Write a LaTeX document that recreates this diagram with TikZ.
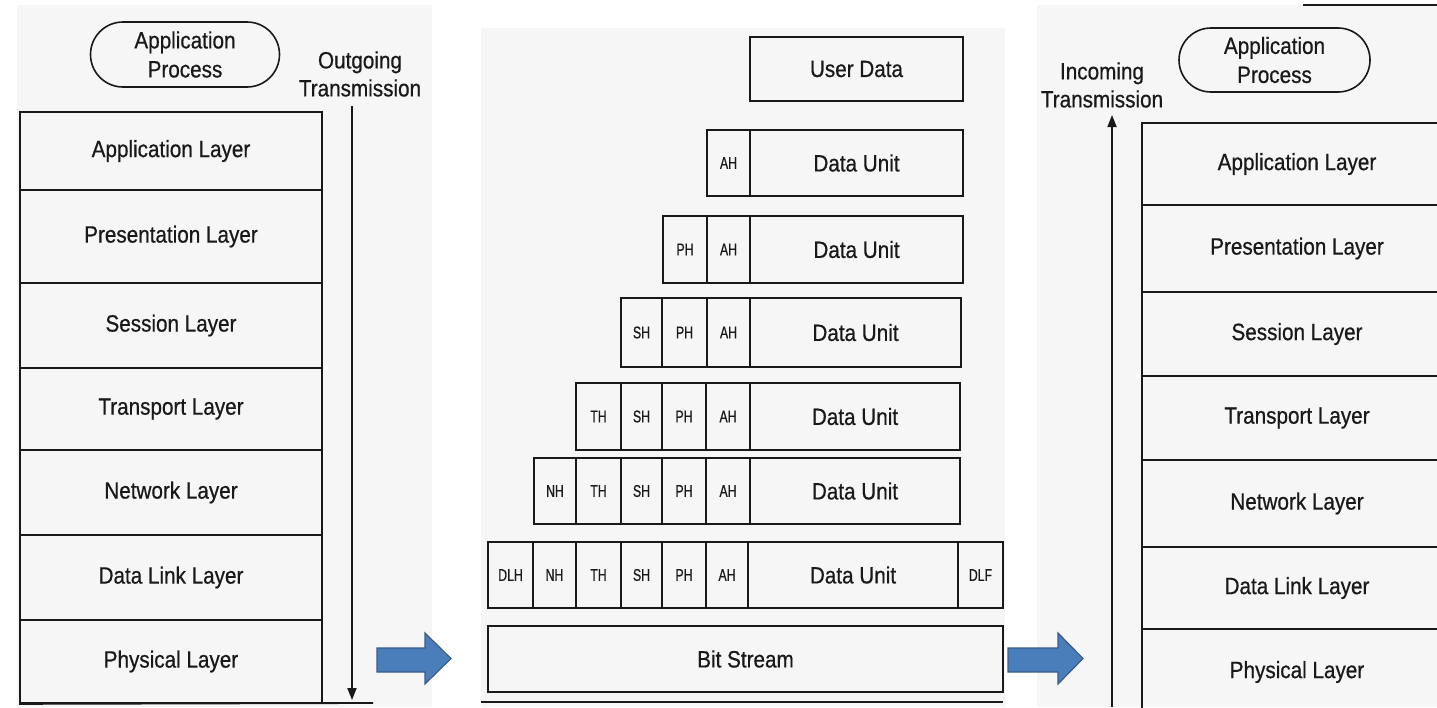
\documentclass[tikz,border=0pt]{standalone}
\usepackage{fontspec}
\setmainfont{Liberation Sans}[FakeStretch=0.88,FakeBold=0.6]
\newfontfamily\hdrfont{Liberation Sans}[FakeStretch=0.72,FakeBold=0.6]
\usetikzlibrary{arrows.meta,shapes.misc}
\definecolor{ink}{RGB}{25,25,25}
\definecolor{paper}{RGB}{246,246,246}
\definecolor{arrfill}{RGB}{74,126,187}
\definecolor{arrline}{RGB}{56,93,138}
\newcommand\cb[7][]{\node[cell,#1,minimum width={(#5-#3)*1pt},minimum height={(#6-#4)*1pt}] (#2) at ({(#3+#5)/2},{(#4+#6)/2}) {#7};}
\begin{document}
\begin{tikzpicture}[x=1pt,y=-1pt,
  cell/.style={draw=ink,line width=1.8pt,inner sep=0pt,text=ink,font=\fontsize{23.5}{28}\selectfont},
  hdr/.style={font=\hdrfont\fontsize{17}{18}\selectfont},
  proc/.style={rounded rectangle,draw=ink,line width=1.6pt,inner sep=0pt,align=center,text=ink,font=\fontsize{23.5}{29}\selectfont},
  lbl/.style={align=center,inner sep=0pt,text=ink,font=\fontsize{23.5}{28}\selectfont},
  flow/.style={draw=ink,line width=1.8pt,-{Triangle[length=12pt,width=9pt]}},
  rule/.style={draw=ink,line width=1.8pt},
  bigarrow/.style={fill=arrfill,draw=arrline,line width=1.2pt,line join=miter}]
\useasboundingbox (0,0) rectangle (1437,707);
% scanned page backgrounds
\fill[paper] (17,5) rectangle (432,707);
\fill[paper] (481,28) rectangle (1005,707);
\fill[paper] (1037,5) rectangle (1437,707);

% ---------- left: sender stack ----------
\node[proc,minimum width=189pt,minimum height=65pt] (lproc) at (185,54.5) {Application\\Process};
\node[lbl] (outl) at (360,74) {Outgoing\\Transmission};
\cb{lapp}{20}{112}{322}{190}{Application Layer}
\cb{lpre}{20}{190}{322}{283}{Presentation Layer}
\cb{lses}{20}{283}{322}{368}{Session Layer}
\cb{ltra}{20}{368}{322}{450}{Transport Layer}
\cb{lnet}{20}{450}{322}{535}{Network Layer}
\cb{ldl}{20}{535}{322}{620}{Data Link Layer}
\cb{lphy}{20}{620}{322}{703}{Physical Layer}
\coordinate (lbase) at (373,703);
\draw[rule] (lphy.south west) -- (lbase);
\coordinate (outtop) at (352,106);
\coordinate (outbot) at (352,700);
\draw[flow] (outtop) -- (outbot);

% ---------- middle: encapsulation ----------
\cb{ud}{750}{37}{963}{101}{User Data}
\cb[hdr]{aah}{707}{130}{750}{196}{AH}
\cb{adu}{750}{130}{963}{196}{Data Unit}
\cb[hdr]{pph}{663}{216}{707}{283}{PH}
\cb[hdr]{pah}{707}{216}{750}{283}{AH}
\cb{pdu}{750}{216}{963}{283}{Data Unit}
\cb[hdr]{ssh}{621}{298}{662}{367}{SH}
\cb[hdr]{sph}{662}{298}{707}{367}{PH}
\cb[hdr]{sah}{707}{298}{750}{367}{AH}
\cb{sdu}{750}{298}{961}{367}{Data Unit}
\cb[hdr]{tth}{576}{383}{621}{450}{TH}
\cb[hdr]{tsh}{621}{383}{662}{450}{SH}
\cb[hdr]{tph}{662}{383}{706}{450}{PH}
\cb[hdr]{tah}{706}{383}{750}{450}{AH}
\cb{tdu}{750}{383}{960}{450}{Data Unit}
\cb[hdr]{nnh}{534}{458}{576}{524}{NH}
\cb[hdr]{nth}{576}{458}{621}{524}{TH}
\cb[hdr]{nsh}{621}{458}{662}{524}{SH}
\cb[hdr]{nph}{662}{458}{706}{524}{PH}
\cb[hdr]{nah}{706}{458}{750}{524}{AH}
\cb{ndu}{750}{458}{960}{524}{Data Unit}
\cb[hdr]{ddlh}{488}{542}{533}{608}{DLH}
\cb[hdr]{dnh}{533}{542}{576}{608}{NH}
\cb[hdr]{dth}{576}{542}{621}{608}{TH}
\cb[hdr]{dsh}{621}{542}{662}{608}{SH}
\cb[hdr]{dph}{662}{542}{706}{608}{PH}
\cb[hdr]{dah}{706}{542}{748}{608}{AH}
\cb{ddu}{748}{542}{958}{608}{Data Unit}
\cb[hdr]{ddlf}{958}{542}{1003}{608}{DLF}
\cb{bits}{488}{626}{1003}{692}{Bit Stream}
\coordinate (mbl) at (481,702);
\coordinate (mbr) at (1003,702);
\draw[rule,line width=1.4pt] (mbl) -- (mbr);

% ---------- blue transfer arrows ----------
\draw[bigarrow] (377,648) -- (425,648) -- (425,633) -- (451,658.5) -- (425,684) -- (425,672) -- (377,672) -- cycle;
\draw[bigarrow] (1008,648) -- (1058,648) -- (1058,633) -- (1083,658.5) -- (1058,684) -- (1058,672) -- (1008,672) -- cycle;

% ---------- right: receiver stack ----------
\node[proc,minimum width=191pt,minimum height=64pt] (rproc) at (1274.5,60) {Application\\Process};
\node[lbl] (inl) at (1102,85) {Incoming\\Transmission};
\coordinate (inbot) at (1112,707);
\coordinate (intop) at (1112,115);
\draw[flow] (inbot) -- (intop);
\coordinate (tl) at (1303,5);
\coordinate (tr) at (1437,5);
\draw[rule,line width=1.4pt] (tl) -- (tr);
\begin{scope}
\clip (0,0) rectangle (1437,707);
\cb{rapp}{1142}{123}{1452}{205}{Application Layer}
\cb{rpre}{1142}{205}{1452}{292}{Presentation Layer}
\cb{rses}{1142}{292}{1452}{376}{Session Layer}
\cb{rtra}{1142}{376}{1452}{460}{Transport Layer}
\cb{rnet}{1142}{460}{1452}{547}{Network Layer}
\cb{rdl}{1142}{547}{1452}{629}{Data Link Layer}
\cb{rphy}{1142}{629}{1452}{715}{Physical Layer}
\end{scope}
\end{tikzpicture}
\end{document}
